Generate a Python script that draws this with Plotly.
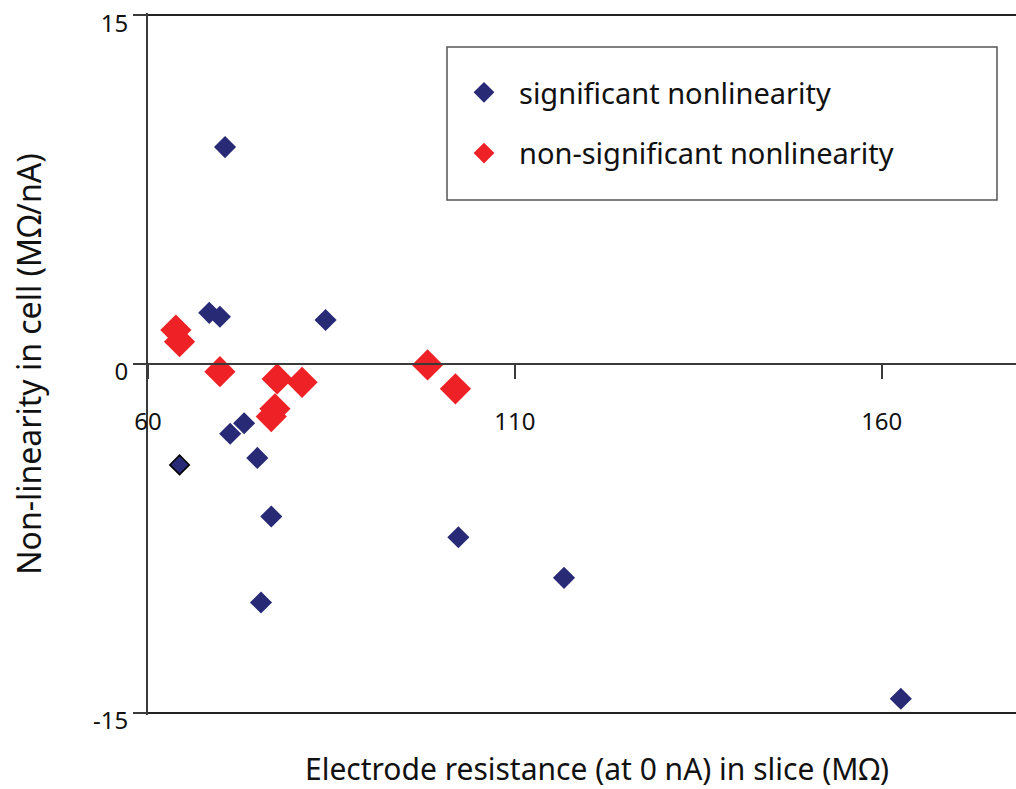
import plotly.graph_objects as go

# Data
sig_x = [70.5, 68.35, 69.8, 84.2, 71.2, 73.1, 74.9, 76.8, 102.3, 75.4, 116.7, 162.6]
sig_y = [9.33, 2.2, 2.03, 1.89, -3.0, -2.55, -4.04, -6.56, -7.45, -10.26, -9.2, -14.4]
# one outlined blue point
out_x = [64.3]
out_y = [-4.34]
nonsig_x = [63.8, 64.3, 69.8, 77.6, 81.0, 77.3, 76.8, 98.1, 101.9]
nonsig_y = [1.46, 0.96, -0.33, -0.64, -0.79, -1.93, -2.26, -0.04, -1.07]

x_ticks = [60, 110, 160]
y_ticks = [-15, 0, 15]

BLUE = "#282a76"
RED = "#ee2226"
AXC = "#3a3a3a"
FONT = "Noto Sans"

W, H = 1016, 789
ML, MT, MB, MR = 148, 13, 74, 0
PW, PH = W - ML - MR, H - MT - MB


def px(xp):
    return (xp - ML) / PW


def py(yp):
    return 1 - (yp - MT) / PH


fig = go.Figure()
fig.add_trace(go.Scatter(
    x=sig_x, y=sig_y, mode="markers", name="significant nonlinearity",
    legendgroup="a",
    marker=dict(symbol="diamond", size=17, color=BLUE, line=dict(width=0)),
))
fig.add_trace(go.Scatter(
    x=out_x, y=out_y, mode="markers", name="significant nonlinearity",
    showlegend=False, legendgroup="a",
    marker=dict(symbol="diamond", size=15, color=BLUE, line=dict(width=1.5, color="#000000")),
))
fig.add_trace(go.Scatter(
    x=nonsig_x, y=nonsig_y, mode="markers", name="non-significant nonlinearity",
    legendgroup="b",
    marker=dict(symbol="diamond", size=24, color=RED, line=dict(width=0)),
))

# legend frame
fig.add_shape(
    type="rect", xref="paper", yref="paper",
    x0=px(447), x1=px(997), y0=py(200), y1=py(47),
    line=dict(color="#555555", width=1.5), fillcolor="white", layer="below",
)

fig.update_layout(
    width=W, height=H,
    margin=dict(l=ML, r=MR, t=MT, b=MB),
    paper_bgcolor="white", plot_bgcolor="white",
    font=dict(family=FONT, size=24, color="#111111"),
    showlegend=True,
    legend=dict(
        x=px(449), y=py(67), xanchor="left", yanchor="top",
        borderwidth=0, bgcolor="rgba(0,0,0,0)",
        font=dict(family=FONT, size=29, color="#111111"),
        orientation="h", entrywidth=470, entrywidthmode="pixels",
        tracegroupgap=20, itemwidth=60,
    ),
    xaxis=dict(
        range=[60, 178.3], tickvals=x_ticks, ticktext=[str(v) for v in x_ticks],
        ticks="outside", ticklen=14, tickwidth=1.5, tickcolor=AXC,
        showline=True, linecolor=AXC, linewidth=1.8,
        showgrid=False, zeroline=False,
        anchor="free", position=0.5,
        ticklabelstandoff=22,
        tickfont=dict(size=24),
    ),
    yaxis=dict(
        range=[-15.1, 15.1], tickvals=y_ticks, ticktext=[str(v) for v in y_ticks],
        ticks="outside", ticklen=13, tickwidth=1.8, tickcolor=AXC,
        showline=True, linecolor=AXC, linewidth=1.8,
        showgrid=True, gridcolor="#222222", gridwidth=2,
        zeroline=False,
        ticklabelshift=8,
        tickfont=dict(size=24),
        title=dict(text="Non-linearity in cell (MΩ/nA)", font=dict(size=32), standoff=42),
    ),
)

fig.add_annotation(
    text="Electrode resistance (at 0 nA) in slice (MΩ)",
    xref="paper", yref="paper", x=px(597), y=py(768), yanchor="middle",
    showarrow=False, font=dict(family=FONT, size=30, color="#111111"),
)

fig.write_html("out.html", config={"displayModeBar": False},
               post_script="document.body.style.margin='0';")
